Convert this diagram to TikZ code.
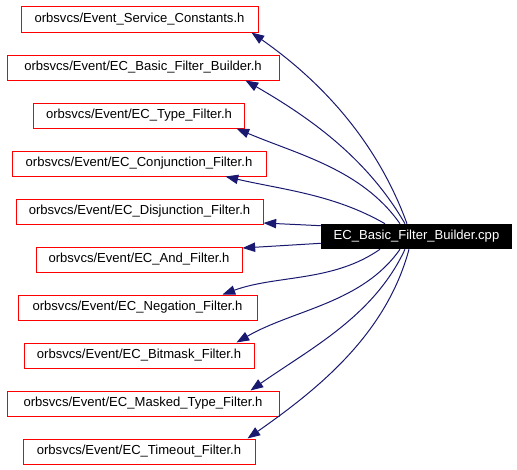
\documentclass[tikz,border=0pt]{standalone}
\usepackage{fontspec}
\setmainfont{Liberation Sans}
\usetikzlibrary{arrows.meta}
\definecolor{edgeblue}{HTML}{191970}
\tikzset{
  hfile/.style={draw=red, line width=0.75pt, inner sep=0pt, minimum height=18.75pt, font=\fontsize{9.8}{12}\selectfont},
  srcfile/.style={fill=black, text=white, inner sep=0pt, minimum height=18.75pt, minimum width=143.25pt, font=\fontsize{9.8}{12}\selectfont},
  incl/.style={draw=edgeblue, line width=0.75pt, -{Triangle[length=9.5pt,width=7pt]}}
}
\begin{document}
\begin{tikzpicture}[x=0.75pt,y=0.75pt]
        \useasboundingbox (0,0) rectangle (517,469);

        % the file itself
        \node[srcfile] (main) at (416.5,232.5) {EC\_Basic\_Filter\_Builder.cpp};

        % included headers
        \node[hfile, minimum width=177.75pt] (b1) at (139.5,449.5) {orbsvcs/Event\_Service\_Constants.h};
        \node[hfile, minimum width=204pt] (b2) at (143,401.5) {orbsvcs/Event/EC\_Basic\_Filter\_Builder.h};
        \node[hfile, minimum width=158.25pt] (b3) at (139,353.5) {orbsvcs/Event/EC\_Type\_Filter.h};
        \node[hfile, minimum width=190.5pt] (b4) at (139,305.5) {orbsvcs/Event/EC\_Conjunction\_Filter.h};
        \node[hfile, minimum width=185.25pt] (b5) at (139.5,257.5) {orbsvcs/Event/EC\_Disjunction\_Filter.h};
        \node[hfile, minimum width=154.5pt] (b6) at (139,209.5) {orbsvcs/Event/EC\_And\_Filter.h};
        \node[hfile, minimum width=179.25pt] (b7) at (137.5,161.5) {orbsvcs/Event/EC\_Negation\_Filter.h};
        \node[hfile, minimum width=172.5pt] (b8) at (139,113.5) {orbsvcs/Event/EC\_Bitmask\_Filter.h};
        \node[hfile, minimum width=204pt] (b9) at (143,65.5) {orbsvcs/Event/EC\_Masked\_Type\_Filter.h};
        \node[hfile, minimum width=174pt] (b10) at (139,17.5) {orbsvcs/Event/EC\_Timeout\_Filter.h};

        % dependency edges
        \draw[incl] ([shift={(-9.5,0)}]main.north) to[out=110,in=-35,looseness=0.9] ([shift={(-7,0)}]b1.south east);
        \draw[incl] ([shift={(-11.5,0)}]main.north) to[out=120,in=-30,looseness=0.9] ([shift={(-34,0)}]b2.south east);
        \draw[incl] ([shift={(-16.5,0)}]main.north) to[out=125,in=-23,looseness=0.9] ([shift={(-8.5,0)}]b3.south east);
        \draw[incl] ([shift={(-31.5,0)}]main.north) to[out=150,in=-13,looseness=0.9] ([shift={(-41,0)}]b4.south east);
        \draw[incl] ([shift={(0,10.8)}]main.west) -- ([shift={(0,1.5)}]b5.south east);
        \draw[incl] ([shift={(0,-6.8)}]main.west) -- ([shift={(0,-1.5)}]b6.north east);
        \draw[incl] ([shift={(-36.5,0)}]main.south) to[out=-145,in=20,looseness=0.9] ([shift={(-35,0)}]b7.north east);
        \draw[incl] ([shift={(-16.5,0)}]main.south) to[out=-125,in=30,looseness=0.9] ([shift={(-18,0)}]b8.north east);
        \draw[incl] ([shift={(-11.5,0)}]main.south) to[out=-115,in=35,looseness=0.9] ([shift={(-29,0)}]b9.north east);
        \draw[incl] ([shift={(-7.5,0)}]main.south) to[out=-105,in=35,looseness=0.9] ([shift={(-8,0)}]b10.north east);
\end{tikzpicture}
\end{document}
